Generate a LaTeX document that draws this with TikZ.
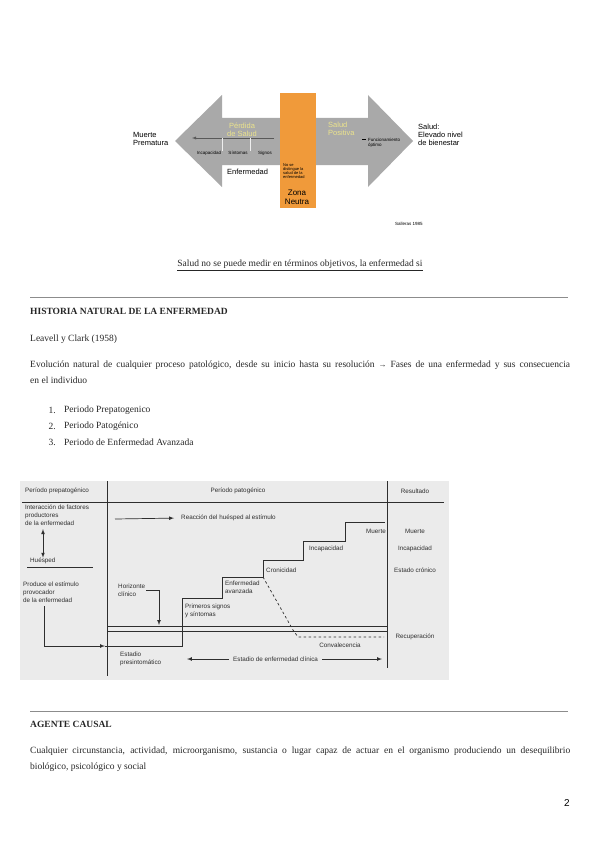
\documentclass[tikz,border=0pt]{standalone}
\usepackage{fontspec}
\setmainfont{Liberation Serif}
\setsansfont{Liberation Sans}
\definecolor{arrowgray}{HTML}{A9A9A9}
\definecolor{neutralorange}{HTML}{F09A3A}
\definecolor{paleyellow}{HTML}{ECE48C}
\definecolor{panelgray}{HTML}{EBEBEB}
\definecolor{inkgray}{HTML}{2E2E2E}
\definecolor{rulegray}{HTML}{8C8C8C}
\begin{document}
\begin{tikzpicture}[x=1pt,y=-1pt,
  every node/.style={inner sep=0pt},
  arrowtxt/.style={font=\sffamily\fontsize{7.5}{8}\selectfont, align=left},
  tinytxt/.style={font=\sffamily\fontsize{4.5}{4.5}\selectfont, align=left},
  paneltxt/.style={font=\sffamily\fontsize{6.3}{8}\selectfont, text=inkgray, align=left},
  bodytxt/.style={font=\fontsize{9.5}{16}\selectfont, text=black!85, align=left},
  heading/.style={font=\fontsize{9.5}{11}\selectfont\bfseries, text=black!85},
  panelline/.style={inkgray, line width=0.7pt}]
\useasboundingbox (0,0) rectangle (600,848);

\fill[arrowgray] (290,118) -- (222,118) -- (222,95) -- (175,141) -- (222,187) -- (222,165) -- (290,165) -- cycle;
\fill[arrowgray] (316,118) -- (368,118) -- (368,95) -- (413,141) -- (368,187) -- (368,165) -- (316,165) -- cycle;
\fill[neutralorange] (280,93) rectangle (316,208);
\node[arrowtxt, anchor=west] (muerte) at (133,139) {Muerte\\Prematura};
\node[arrowtxt, text=paleyellow, align=center] (perdida) at (242,130) {Pérdida\\de Salud};
\node[arrowtxt, text=paleyellow, anchor=west] (positiva) at (328,129) {Salud\\Positiva};
\node[tinytxt] (incap) at (209,153) {Incapacidad};
\node[tinytxt] (sint) at (238,153) {Síntomas};
\node[tinytxt] (signos) at (265,153) {Signos};
\coordinate (lineend) at (274,138);
\coordinate (linetip) at (192,138);
\draw[gray!70!black, line width=0.4pt, -latex] (lineend) -- (linetip);
\draw[white!80!arrowgray, line width=0.4pt] (222,138) -- (222,151) (250,138) -- (250,151);
\node[arrowtxt, anchor=west] (enf) at (227,172) {Enfermedad};
\node[font=\sffamily\fontsize{4}{4}\selectfont, align=left, anchor=north west] (nodist) at (283,164) {No se\\distingue la\\salud de la\\enfermedad};
\node[font=\sffamily\fontsize{8}{9}\selectfont, align=center] (zona) at (297,197) {Zona\\Neutra};
\draw[black, line width=1pt] (362,139) -- (366,139);
\node[tinytxt, anchor=west] (optimo) at (368,143) {Funcionamiento\\óptimo};
\node[arrowtxt, anchor=west] (bienestar) at (418,135) {Salud:\\Elevado nivel\\de bienestar};
\node[font=\sffamily\fontsize{4.5}{5}\selectfont, anchor=west] (salleras) at (395,224) {Salleras 1985};

\node[bodytxt] (medir) at (300,265) {\underline{Salud no se puede medir en términos objetivos, la enfermedad si}};
\draw[rulegray, line width=1pt] (30,297) -- (568,297);
\node[heading, anchor=west] (historia) at (30,311) {HISTORIA NATURAL DE LA ENFERMEDAD};
\node[bodytxt, anchor=west] (leavell) at (30,339) {Leavell y Clark (1958)};
\node[bodytxt, anchor=north west, text width=540pt, align=justify] (evol) at (30,361) {Evolución natural de cualquier proceso patológico, desde su inicio hasta su resolución {\sffamily\fontsize{8}{8}\selectfont →} Fases de una enfermedad y sus consecuencia\linebreak en el individuo};
\node[bodytxt, anchor=east] (n1) at (56,410) {1.};
\node[bodytxt, anchor=west] (p1) at (64,410) {Periodo Prepatogenico};
\node[bodytxt, anchor=east] (n2) at (56,426) {2.};
\node[bodytxt, anchor=west] (p2) at (64,426) {Periodo Patogénico};
\node[bodytxt, anchor=east] (n3) at (56,442) {3.};
\node[bodytxt, anchor=west] (p3) at (64,442) {Periodo de Enfermedad Avanzada};

\fill[panelgray] (20,481) rectangle (449,680);
\draw[panelline] (22,502) -- (444,502);
\draw[panelline] (107,481) -- (107,676);
\draw[panelline] (387,481) -- (387,668);
\node[paneltxt, anchor=west] (prepat) at (25,491) {Período prepatogénico};
\node[paneltxt] (pat) at (238,491) {Período patogénico};
\node[paneltxt] (result) at (415,491) {Resultado};
\node[paneltxt, anchor=north west] (inter) at (25,505) {Interacción de factores\\productores\\de la enfermedad};
\node[paneltxt, anchor=south west] (huesped) at (30,564) {Huésped};
\draw[panelline] (27,567) -- (93,567);
\draw[panelline, latex-latex] (inter.south west -| 43,0) ++(0,3) -- (huesped.north west -| 43,0);
\node[paneltxt, anchor=north west] (produce) at (23,582) {Produce el estímulo\\provocador\\de la enfermedad};
\coordinate (entry) at (105,646);
\draw[panelline, -latex] (produce.south west -| 44,0) ++(0,3) |- (entry);
\draw[panelline] (entry) -- (182,646) -- (182,598) -- (222,598) -- (222,577) -- (263,577) -- (263,560) -- (303,560) -- (303,541) -- (345,541) -- (345,522) -- (385,522);
\draw[panelline, dashed, dash pattern=on 2.5pt off 2.5pt] (263,577) -- (293,630) -- (298,637) -- (384,637);
\draw[panelline] (107,626) -- (387,626);
\draw[panelline] (107,631) -- (387,631);
\node[paneltxt, anchor=west] (reaccion) at (181,518) {Reacción del huésped al estímulo};
\coordinate (reacstart) at (115,519);
\draw[panelline, -latex, shorten >=7pt] (reacstart) -- (reaccion.west);
\node[paneltxt, anchor=north west] (horizonte) at (118,584) {Horizonte\\clínico};
\coordinate (horizontip) at (159,625);
\draw[panelline, -latex] ([xshift=1pt]horizonte.east) -| (horizontip);
\node[paneltxt, anchor=north west] (avanzada) at (225,581) {Enfermedad\\avanzada};
\node[paneltxt, anchor=north west] (primeros) at (185,604) {Primeros signos\\y síntomas};
\node[paneltxt, anchor=west] (cronicidad) at (266,570) {Cronicidad};
\node[paneltxt, anchor=west] (incapacidad) at (309,549) {Incapacidad};
\node[paneltxt, anchor=west] (muertestep) at (366,531) {Muerte};
\node[paneltxt] (rmuerte) at (415,531) {Muerte};
\node[paneltxt] (rincap) at (415,549) {Incapacidad};
\node[paneltxt] (rcronico) at (415,570) {Estado crónico};
\node[paneltxt] (recup) at (415,637) {Recuperación};
\node[paneltxt] (convalec) at (340,645) {Convalecencia};
\node[paneltxt, anchor=north west] (presint) at (120,652) {Estadio\\presintomático};
\node[paneltxt, anchor=west] (clinica) at (233,659) {Estadio de enfermedad clínica};
\coordinate (clinleft) at (187,659);
\coordinate (clinright) at (382,659);
\draw[panelline, -latex] ([xshift=-4pt]clinica.west) -- (clinleft);
\draw[panelline, -latex] ([xshift=4pt]clinica.east) -- (clinright);

\draw[rulegray, line width=1pt] (30,711) -- (568,711);
\node[heading, anchor=west] (agente) at (30,724) {AGENTE CAUSAL};
\node[bodytxt, anchor=north west, text width=540pt, align=justify] (cualquier) at (30,747) {Cualquier circunstancia, actividad, microorganismo, sustancia o lugar capaz de actuar en el organismo produciendo un desequilibrio\linebreak biológico, psicológico y social};
\node[font=\sffamily\fontsize{10}{12}\selectfont, anchor=east] (pagina) at (570,803) {2};
\end{tikzpicture}
\end{document}
